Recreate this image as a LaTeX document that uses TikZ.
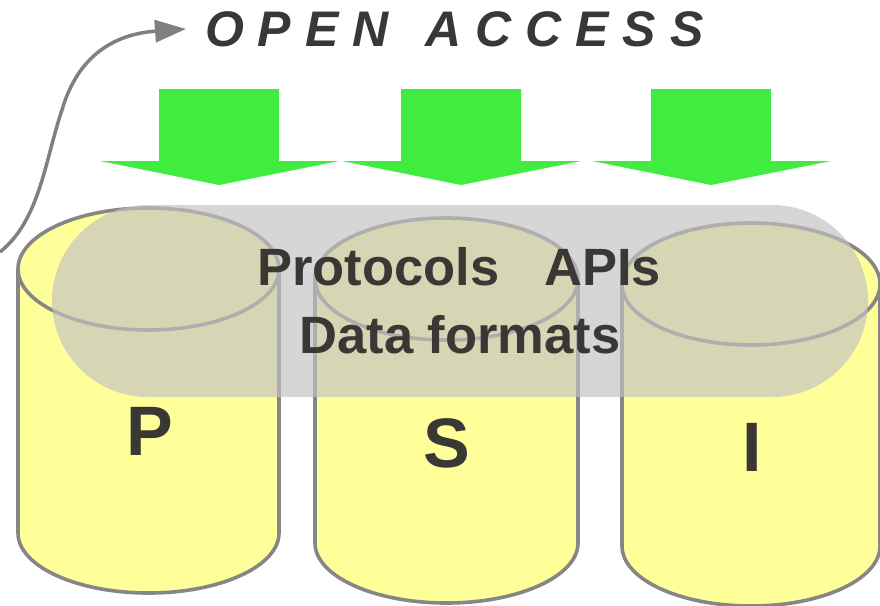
\documentclass[tikz,border=0pt]{standalone}
\usepackage{fontspec}
\setmainfont{Liberation Sans}
\usetikzlibrary{arrows.meta}
\definecolor{txt}{RGB}{58,56,52}
\definecolor{grn}{RGB}{63,236,63}
\definecolor{ylw}{RGB}{255,255,153}
\definecolor{edge}{RGB}{134,134,134}
\definecolor{pill}{RGB}{194,194,194}
\definecolor{arr}{RGB}{128,128,128}
\tikzset{
  cylfill/.style={fill=ylw},
  cyledge/.style={draw=edge, line width=3.6pt},
  greenarrow/.style={fill=grn},
  overlay/.style={fill=pill, fill opacity=0.667},
  bigtxt/.style={text=txt, font=\bfseries\fontsize{52.5}{60}\selectfont, inner sep=0pt},
  lettxt/.style={text=txt, font=\bfseries\fontsize{70}{80}\selectfont, inner sep=0pt, anchor=base},
  curvearrow/.style={draw=arr, line width=3.5pt, -{Triangle[length=31pt,width=22pt]}}
}
\begin{document}
\begin{tikzpicture}[x=1pt,y=-1pt]
\useasboundingbox (0,0) rectangle (880,605);
% cylinders
\foreach \cx/\rx/\cy/\sb in {148.5/130.5/269/533, 446.5/131.5/279/543, 751/129/284/546}{
  \fill[cylfill] (\cx-\rx,\cy) -- (\cx-\rx,\sb) arc[start angle=180,end angle=360,x radius=\rx pt,y radius=60pt]
     -- (\cx+\rx,\cy) arc[start angle=0,end angle=180,x radius=\rx pt,y radius=61pt] -- cycle;
  \draw[cyledge] (\cx-\rx,\cy) -- (\cx-\rx,\sb) arc[start angle=180,end angle=360,x radius=\rx pt,y radius=60pt] -- (\cx+\rx,\cy);
  \draw[cyledge] (\cx,\cy) ellipse[x radius=\rx pt, y radius=61pt];
}
% translucent band
\path[overlay, rounded corners=96pt] (52,205) rectangle (868,397);
% green arrows
\foreach \dx in {0,242,492}{
  \fill[greenarrow] (159+\dx,89) -- (279+\dx,89) -- (279+\dx,161) -- (339+\dx,161) -- (219+\dx,185)
     -- (100+\dx,161) -- (159+\dx,161) -- cycle;
}
% texts
\node[text=txt, font=\bfseries\itshape\fontsize{50}{60}\selectfont, inner sep=0pt, anchor=base west] (oa) at (205,46) {O P E N\hspace{37pt}A C C E S S};
\node[bigtxt, anchor=base] (l1) at (459,285) {Protocols\hspace{45pt}APIs};
\node[bigtxt, anchor=base] (l2) at (460,353) {Data formats};
\node[lettxt] (p) at (150,455) {P};
\node[lettxt] (s) at (447,467) {S};
\node[lettxt] (i) at (752,471) {I};
% curved arrow
\coordinate (cs) at (0,252);
\coordinate (cm) at (62,110);
\coordinate (ce) at (186,29);
\draw[curvearrow] (cs) .. controls (40,220) and (45,160) .. (cm) .. controls (78,55) and (115,34) .. (ce);
\end{tikzpicture}
\end{document}
